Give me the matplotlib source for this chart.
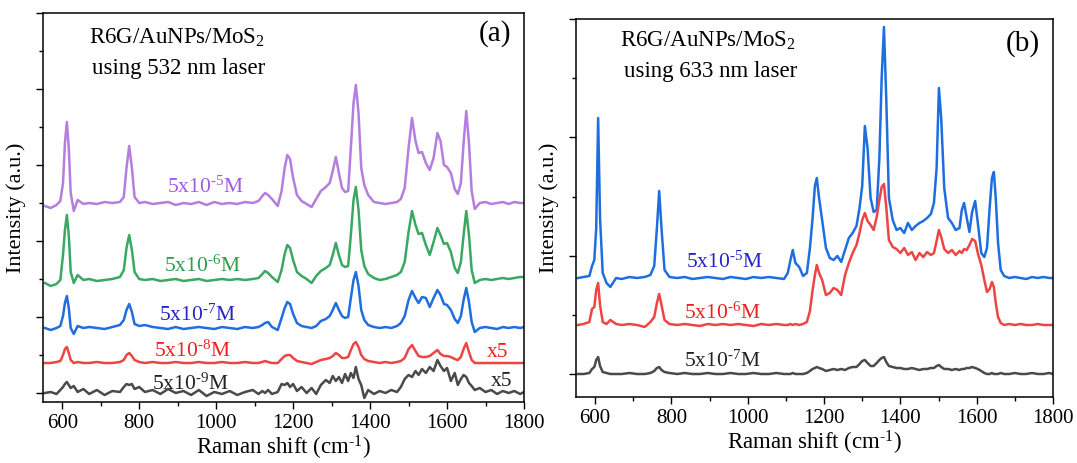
import matplotlib
matplotlib.use("Agg")
import matplotlib.pyplot as plt
from matplotlib.ticker import MultipleLocator
import numpy as np

plt.rcParams['font.family'] = ['Liberation Serif', 'DejaVu Serif']
plt.rcParams['mathtext.fontset'] = 'custom'
plt.rcParams['mathtext.rm'] = 'Liberation Serif'
plt.rcParams['mathtext.it'] = 'Liberation Serif:italic'

# ---- (a) 532 nm laser, Raman shift grid (cm-1) ----
x532 = [555, 570, 585, 595, 602, 607, 612, 617, 622, 630,
        640, 655, 670, 690, 710, 730, 750, 760, 767, 774,
        781, 788, 800, 815, 835, 855, 875, 895, 915, 935,
        955, 975, 995, 1015, 1035, 1055, 1075, 1095, 1110, 1120,
        1127, 1135, 1145, 1160, 1170, 1178, 1185, 1192, 1200, 1210,
        1222, 1235, 1248, 1260, 1272, 1285, 1295, 1303, 1311, 1319,
        1327, 1335, 1343, 1350, 1357, 1363, 1370, 1377, 1385, 1395,
        1410, 1425, 1440, 1455, 1470, 1480, 1490, 1500, 1509, 1518,
        1526, 1535, 1545, 1555, 1565, 1575, 1583, 1592, 1600, 1610,
        1620, 1628, 1636, 1643, 1650, 1657, 1664, 1672, 1685, 1700,
        1715, 1730, 1745, 1760, 1775, 1790, 1800]

a_5e5 = [-3, -5, -2, 2, 20, 60, 81, 55, 10, -8,
         3, -1, 0, -1, 1, 0, 1, 6, 35, 57,
         35, 6, 0, 1, -1, 0, 1, -2, 0, -1,
         1, -2, 1, -1, 0, -1, 1, 0, 2, 7,
         10, 8, 4, -3, 12, 35, 48, 44, 25, 8,
         2, -1, -4, 4, 12, 16, 20, 32, 46, 30,
         15, 11, 12, 55, 100, 118, 90, 35, 18, 8,
         1, 0, -1, 0, 1, 4, 15, 55, 85, 62,
         50, 51, 40, 33, 45, 70, 62, 38, 36, 30,
         14, 9, 20, 60, 92, 60, 12, -6, 0, 1,
         -1, 0, 1, -1, 1, 0, 0]
a_5e6 = [-3, -6, -4, 0, 25, 50, 65, 45, 8, -3,
         5, 0, 1, -1, 0, 1, 3, 10, 32, 45,
         30, 8, 1, 0, 1, -1, 0, 1, -1, 0,
         1, -1, 0, 1, 0, 1, 0, 1, 2, 6,
         9, 7, 3, -2, 10, 26, 35, 32, 20, 8,
         4, 1, -3, 4, 9, 12, 15, 25, 37, 25,
         15, 13, 14, 45, 80, 93, 70, 30, 14, 6,
         2, 0, 1, 3, 5, 8, 18, 48, 69, 55,
         46, 47, 35, 25, 38, 52, 45, 36, 37, 28,
         12, 7, 18, 45, 69, 45, 10, -3, 0, 1,
         0, 1, 2, 1, 2, 3, 3]
a_5e7 = [0, -2, 0, 2, 12, 25, 32, 20, 0, -6,
         2, 0, 1, 0, -1, 1, 3, 8, 18, 24,
         16, 4, 2, 3, 1, 0, -1, 1, -1, 0,
         1, 0, -1, 1, 0, -1, 1, 0, 1, 3,
         5, 6, 1, -2, 10, 20, 26, 24, 14, 5,
         2, 1, 0, 2, 7, 9, 12, 18, 25, 18,
         12, 10, 11, 30, 48, 56, 42, 18, 8, 3,
         1, 0, 1, 0, 2, 5, 12, 28, 37, 30,
         25, 31, 30, 21, 30, 38, 33, 24, 23, 18,
         9, 5, 12, 28, 40, 26, 6, -4, 0, 1,
         0, -1, 1, 0, 1, 0, 1]
a_5e8 = [0, 0, 1, 2, 8, 14, 16, 10, 3, 0,
         1, 0, 0, 1, 0, 0, 1, 3, 8, 10,
         7, 3, 1, 0, 1, 0, 0, 1, 0, 0,
         1, 0, 0, 1, 0, 0, 1, 0, 0, 1,
         2, 1, 0, 0, 4, 7, 8, 8, 5, 2,
         1, 0, -1, 1, 3, 4, 5, 7, 10, 8,
         5, 5, 6, 13, 19, 21, 16, 8, 4, 2,
         1, 0, 1, 0, 1, 2, 5, 14, 18, 12,
         7, 6, 6, 7, 10, 13, 9, 7, 7, 6,
         4, 3, 6, 14, 20, 11, 3, 0, 0, 0,
         0, 0, 0, 0, 0, 0, 0]
a_5e9 = [0, 1, -1, 3, 6, 9, 11, 8, 5, 7,
         1, 4, -1, 3, -2, 2, 1, 6, 9, 8,
         9, 4, 6, 1, 3, -1, 4, 0, 2, -2,
         3, -3, 1, -1, 2, -2, 1, 3, -1, 2,
         0, 3, -1, 1, 9, 8, 10, 6, 9, 2,
         6, 0, 5, -1, 8, 13, 10, 17, 12, 16,
         10, 19, 12, 20, 15, 26, 14, 8, -5, 3,
         -1, 2, 0, 3, 1, 6, 14, 18, 16, 22,
         18, 24, 20, 26, 22, 33, 27, 22, 25, 12,
         20, 8, 14, 18, 16, 10, 7, 3, 5, 1,
         3, -1, 2, 0, 2, -1, 1]
offsets_532 = [190, 113, 65, 30, 0]
labels_532 = [r'5x10$^{\text{-5}}$M', r'5x10$^{\text{-6}}$M', r'5x10$^{\text{-7}}$M',
              r'5x10$^{\text{-8}}$M', r'5x10$^{\text{-9}}$M']

# ---- (b) 633 nm laser ----
x633 = [555, 570, 585, 592, 598, 603, 608, 613, 620, 630,
        640, 655, 670, 690, 710, 730, 745, 755, 762, 768,
        774, 782, 795, 815, 835, 855, 875, 895, 915, 935,
        955, 975, 995, 1015, 1035, 1055, 1075, 1095, 1105, 1112,
        1118, 1125, 1135, 1145, 1155, 1163, 1170, 1176, 1181, 1187,
        1195, 1205, 1215, 1225, 1235, 1245, 1255, 1265, 1275, 1285,
        1293, 1300, 1307, 1314, 1322, 1330, 1338, 1345, 1351, 1357,
        1363, 1370, 1380, 1390, 1400, 1410, 1420, 1430, 1440, 1450,
        1460, 1470, 1480, 1488, 1495, 1501, 1507, 1515, 1525, 1535,
        1545, 1555, 1561, 1567, 1574, 1581, 1588, 1596, 1603, 1612,
        1620, 1627, 1634, 1640, 1645, 1650, 1656, 1663, 1672, 1685,
        1700, 1715, 1730, 1745, 1760, 1775, 1790, 1800]

b_5e5 = [0, 1, 2, 12, 18, 50, 160, 60, 5, -5,
         -9, 0, -1, 1, 0, 1, 3, 12, 50, 87,
         50, 8, 1, 0, 1, -1, 0, 1, 0, -1,
         1, 0, -1, 1, 0, 1, 0, -1, 5, 18,
         28, 15, 11, 2, 5, 30, 60, 92, 100, 80,
         58, 30, 20, 18, 22, 16, 28, 40, 45, 52,
         70, 92, 152, 130, 80, 66, 68, 120, 200, 251,
         180, 80, 58, 48, 50, 45, 55, 48, 52, 55,
         57, 60, 64, 75, 110, 190, 160, 90, 60, 55,
         48, 50, 68, 75, 60, 46, 66, 77, 55, 25,
         21, 30, 70, 100, 106, 80, 35, 8, 2, 0,
         1, 0, -1, 1, 0, 1, 0, 0]
b_5e6 = [0, 1, 3, 16, 18, 35, 42, 20, 3, 1,
         5, 1, 0, 1, 0, -2, 3, 8, 22, 31,
         20, 5, 1, 0, 1, 0, -1, 1, 0, 1,
         0, 1, 0, -1, 1, 0, 1, 0, 0, 1,
         0, 1, 0, 1, 3, 14, 35, 50, 60, 52,
         45, 30, 32, 37, 35, 30, 50, 62, 72, 80,
         92, 105, 112, 104, 100, 95, 108, 125, 138, 141,
         118, 85, 78, 76, 72, 77, 70, 73, 65, 72,
         68, 73, 70, 72, 84, 95, 88, 76, 72, 75,
         70, 74, 72, 76, 75, 80, 86, 84, 72, 60,
         45, 33, 36, 43, 38, 22, 8, 2, 0, 1,
         0, 1, 0, 0, 1, 0, 0, 0]
b_5e7 = [0, 0, 1, 5, 7, 14, 17, 8, 2, 1,
         0, 0, 0, 1, 0, 0, 1, 3, 6, 7,
         4, 2, 1, 0, 1, 0, 0, 1, 0, 0,
         1, 0, 0, 1, 0, 0, 1, 0, 0, 0,
         1, 0, 0, 0, 1, 3, 5, 6, 7, 6,
         5, 3, 4, 5, 4, 5, 4, 6, 7, 7,
         10, 13, 14, 11, 8, 8, 11, 14, 16, 17,
         12, 8, 7, 6, 6, 5, 5, 6, 5, 4,
         5, 5, 6, 6, 8, 9, 7, 5, 5, 4,
         5, 4, 5, 5, 6, 6, 7, 6, 5, 3,
         1, 0, 0, 1, 0, 0, 0, 1, 0, 0,
         1, 0, 0, 1, 0, 0, 1, 0]
offsets_633 = [96, 49, 0]
labels_633 = [r'5x10$^{\text{-5}}$M', r'5x10$^{\text{-6}}$M', r'5x10$^{\text{-7}}$M']

# colours
line_a = ['#b57ede', '#3aa862', '#1f6ee0', '#ee4444', '#4a4a4a']
text_a = ['#a259e6', '#2e9e4a', '#2424c8', '#f02020', '#222222']
line_b = ['#1f6ee0', '#ee4444', '#4a4a4a']
text_b = ['#2424c8', '#f02020', '#222222']

fig = plt.figure(figsize=(10.77, 4.63), dpi=100)
axA = fig.add_axes([43/1077, 61/463, 481/1077, 389/463])
axB = fig.add_axes([576/1077, 66/463, 477/1077, 378/463])


def style(ax, ylo, yhi, ystep):
    ax.set_xlim(550, 1800)
    ax.set_ylim(ylo, yhi)
    ax.xaxis.set_major_locator(MultipleLocator(200))
    ax.xaxis.set_minor_locator(MultipleLocator(100))
    ax.yaxis.set_major_locator(MultipleLocator(ystep))
    ax.yaxis.set_minor_locator(MultipleLocator(ystep / 2))
    ax.set_yticklabels([])
    ax.tick_params(which='both', direction='out', top=False, right=False,
                   labelsize=15, width=1)
    ax.tick_params(which='major', length=5)
    ax.tick_params(which='minor', length=3)
    for s in ax.spines.values():
        s.set_linewidth(1.1)
    ax.set_xlabel(r'Raman shift (cm$^{\text{-1}}$)', fontsize=16.5, labelpad=1)
    ax.set_ylabel('Intensity (a.u.)', fontsize=16, labelpad=4)


series_a = [a_5e5, a_5e6, a_5e7, a_5e8, a_5e9]
for y, off, c in zip(series_a, offsets_532, line_a):
    axA.plot(x532, np.array(y) + off, color=c, lw=1.8)
style(axA, -9, 380, 76)

lab_pos_a = [(971, 200), (963, 121), (950, 72), (937, 36), (934, 3)]
for (tx, ty), lab, c in zip(lab_pos_a, labels_532, text_a):
    axA.text(tx, ty, lab, color=c, fontsize=15.5, ha='center', va='baseline')
axA.text(1732, 36, 'x5', color='#f02020', fontsize=15.5, ha='center', va='baseline')
axA.text(1742, 7, 'x5', color='#222222', fontsize=15.5, ha='center', va='baseline')
axA.text(0.278, 0.935, r'R6G/AuNPs/MoS$_2$', transform=axA.transAxes,
         fontsize=16.5, ha='center', va='center')
axA.text(0.282, 0.858, 'using 532 nm laser', transform=axA.transAxes,
         fontsize=16.5, ha='center', va='center')
axA.text(0.939, 0.947, '(a)', transform=axA.transAxes,
         fontsize=21, ha='center', va='center')

series_b = [b_5e5, b_5e6, b_5e7]
for y, off, c in zip(series_b, offsets_633, line_b):
    axB.plot(x633, np.array(y) + off, color=c, lw=1.8)
style(axB, -23, 355, 118.33)

lab_pos_b = [(940, 106), (933, 55), (933, 7)]
for (tx, ty), lab, c in zip(lab_pos_b, labels_633, text_b):
    axB.text(tx, ty, lab, color=c, fontsize=15.5, ha='center', va='baseline')
axB.text(0.276, 0.942, r'R6G/AuNPs/MoS$_2$', transform=axB.transAxes,
         fontsize=16.5, ha='center', va='center')
axB.text(0.282, 0.862, 'using 633 nm laser', transform=axB.transAxes,
         fontsize=16.5, ha='center', va='center')
axB.text(0.937, 0.934, '(b)', transform=axB.transAxes,
         fontsize=21, ha='center', va='center')

fig.savefig('out.png', dpi=100)
